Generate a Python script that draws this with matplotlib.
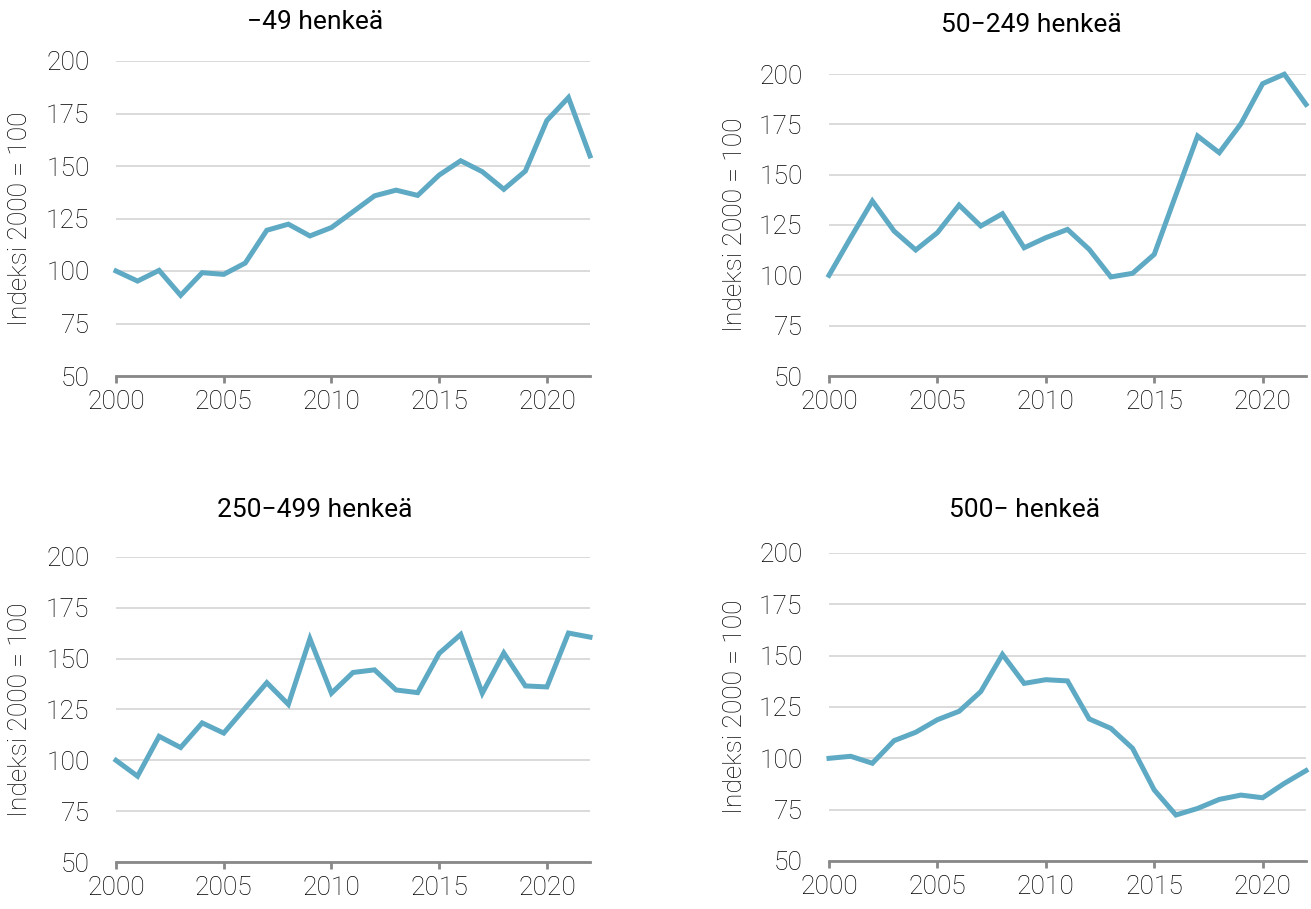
import matplotlib.pyplot as plt

plt.rcParams["font.family"] = ["Roboto", "DejaVu Sans"]

years = list(range(2000, 2023))

# Index 2000 = 100, by company size
small = [100, 95.2, 100.3, 88.4, 99.2, 98.4, 103.8, 119.4, 122.3, 116.7, 120.7, 128.2,
         135.8, 138.5, 136.0, 145.7, 152.5, 147.3, 138.9, 147.6, 171.7, 182.6, 154.8]
medium = [100, 118.7, 136.9, 122.0, 112.6, 121.2, 134.9, 124.5, 130.6, 113.7, 118.7, 122.8,
          112.9, 99.2, 101.0, 110.4, 140.0, 169.2, 160.9, 175.3, 195.2, 199.9, 184.9]
large = [100, 92.2, 111.8, 106.3, 118.4, 113.4, 125.8, 138.2, 127.5, 159.8, 133.0, 143.2,
         144.5, 134.6, 133.3, 152.6, 161.9, 133.0, 152.8, 136.6, 136.1, 162.6, 160.6]
biggest = [100, 101.0, 97.6, 108.6, 112.7, 118.8, 122.9, 132.5, 150.6, 136.5, 138.3, 137.7,
           119.2, 114.6, 104.9, 84.6, 72.4, 75.6, 80.0, 82.1, 80.8, 87.8, 94.0]

series = [small, medium, large, biggest]
titles = ["\u221249 henkeä", "50\u2212249 henkeä", "250\u2212499 henkeä", "500\u2212 henkeä"]
yticks = [50, 75, 100, 125, 150, 175, 200]
xticks = [2000, 2005, 2010, 2015, 2020]

W, H = 1311, 909
# axes boxes in pixels: left, top, right, bottom
boxes = [(116, 61, 590, 376), (829, 74, 1306, 376),
         (116, 557, 590, 862), (829, 553, 1306, 861)]
title_pos = [(315, 22), (1031, 25), (315, 510), (1025, 510)]
ylabel_x = [32, 747, 32, 747]

line_color = "#5ea9c3"
text_color = "#000000"

fig = plt.figure(figsize=(W / 100, H / 100), dpi=100)

for i, values in enumerate(series):
    l, t, r, b = boxes[i]
    ax = fig.add_axes([l / W, 1 - b / H, (r - l) / W, (b - t) / H])
    ax.plot(years, values, color=line_color, linewidth=3.6, clip_on=False,
            solid_joinstyle="miter", zorder=3)
    ax.set_xlim(2000, 2022)
    ax.set_ylim(50, 200)
    ax.set_yticks(yticks)
    ax.set_xticks(xticks)
    ax.grid(axis="y", color="#d4d4d4", linewidth=1.2)
    ax.set_axisbelow(True)
    for side in ["top", "right", "left"]:
        ax.spines[side].set_visible(False)
    ax.spines["bottom"].set_color("#888888")
    ax.spines["bottom"].set_linewidth(2)
    ax.spines["bottom"].set_zorder(4)
    ax.tick_params(axis="y", length=0, pad=19, labelsize=19, labelcolor=text_color)
    ax.tick_params(axis="x", length=5, width=2, color="#888888", pad=5,
                   labelsize=19, labelcolor=text_color)
    for lab in ax.get_xticklabels() + ax.get_yticklabels():
        lab.set_fontweight("light")
    ax.set_ylabel("Indeksi 2000 = 100", fontsize=19, fontweight="light", color=text_color)
    ax.yaxis.set_label_coords((ylabel_x[i] - l) / (r - l), 0.5)

    tx, ty = title_pos[i]
    fig.text(tx / W, 1 - ty / H, titles[i], ha="center", va="center",
             fontsize=19, color="#000000")

fig.savefig("out.png", dpi=100)
